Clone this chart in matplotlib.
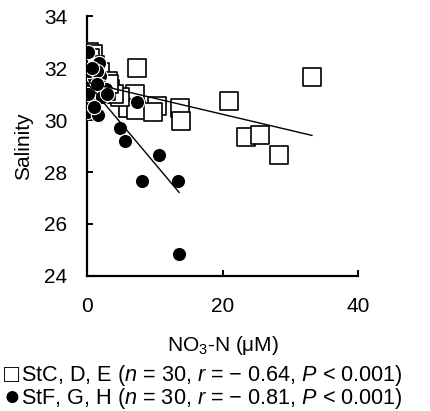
import numpy as np
import matplotlib
matplotlib.use("Agg")
import matplotlib.pyplot as plt

plt.rcParams['font.family'] = ['Liberation Sans', 'DejaVu Sans']
plt.rcParams['mathtext.fontset'] = 'custom'
plt.rcParams['mathtext.rm'] = 'Liberation Sans'
plt.rcParams['mathtext.it'] = 'Liberation Sans:italic'

# StC, D, E (open squares)
sq_x = [33.2, 20.9, 23.5, 25.5, 28.3, 7.4, 7.1, 6.0, 7.3, 4.9, 10.3, 9.8, 13.7, 13.8,
        0.3, 0.9, 1.9, 3.1, 0.4, 3.4, 2.5, 1.5, 1.0, 0.5, 2.0, 4.0, 0.8, 1.2, 2.8, 3.2]
sq_y = [31.65, 30.74, 29.36, 29.44, 28.67, 32.0, 31.0, 30.47, 30.4, 30.9, 30.55, 30.3, 30.45, 29.98,
        32.6, 32.55, 31.85, 31.5, 31.55, 31.2, 31.3, 31.4, 31.8, 32.4, 31.0, 31.0, 31.2, 32.1, 31.1, 31.4]

# StF, G, H (filled circles)
ci_x = [0.2, 1.8, 1.9, 0.2, 0.0, 0.4, 2.4, 0.0, 1.6, 7.4, 4.9, 5.6, 10.6, 8.1, 13.4, 13.6,
        0.5, 1.0, 1.2, 0.3, 2.0, 2.8, 0.6, 1.4, 0.8, 2.2, 1.0, 0.1, 3.0, 1.5]
ci_y = [32.6, 32.2, 31.7, 31.5, 31.25, 30.9, 31.05, 30.3, 30.2, 30.7, 29.7, 29.2, 28.67, 27.64, 27.64, 24.84,
        31.3, 31.6, 31.0, 31.9, 31.3, 31.2, 30.6, 31.9, 32.0, 30.9, 30.5, 31.0, 31.0, 31.4]

# linear trend lines: (slope, intercept)
fit_sq = (-0.0615, 31.45)
fit_ci = (-0.31, 31.43)

x_ticks = [0, 20, 40]
y_ticks = [24, 26, 28, 30, 32, 34]
legend_sym = ["□", "●"]
legend_txt = [r"StC, D, E ($n$ = 30, $r$ = − 0.64, $P$ < 0.001)",
              r"StF, G, H ($n$ = 30, $r$ = − 0.81, $P$ < 0.001)"]

FS = 15
W, H = 431, 411

fig = plt.figure(figsize=(4.31, 4.11), dpi=100)
ax = fig.add_axes([0.2019, 0.3285, 0.6287, 0.6325])

ax.scatter(sq_x, sq_y, marker='s', s=150, facecolors='white', edgecolors='black',
           linewidths=1.2, zorder=2)
ax.scatter(ci_x, ci_y, marker='o', s=105, facecolors='black', edgecolors='white',
           linewidths=0.8, zorder=3)

for xs, (k, b) in [(sq_x, fit_sq), (ci_x, fit_ci)]:
    xx = np.array([min(xs), max(xs)])
    ax.plot(xx, k * xx + b, color='black', lw=1.0, zorder=4)

ax.set_xlim(0, 40)
ax.set_ylim(24, 34)
ax.set_xticks(x_ticks)
ax.set_yticks(y_ticks)
for s in ['top', 'right']:
    ax.spines[s].set_visible(False)
for s in ['left', 'bottom']:
    ax.spines[s].set_linewidth(1.6)
ax.tick_params(direction='in', length=4, width=1.4, labelsize=FS, pad=15)
ax.tick_params(axis='y', pad=14)
ax.set_ylabel('Salinity', fontsize=FS, labelpad=8)
ax.set_xlabel(r'NO$_3$-N (μM)', fontsize=FS, labelpad=13)
for sp in ax.spines.values():
    sp.set_clip_on(False)

ys = [375, 398]
sym_sizes = [18, 20]
for sym, txt, y, ss in zip(legend_sym, legend_txt, ys, sym_sizes):
    fig.text(4 / W, 1 - y / H, sym, fontsize=ss, va='center', ha='left')
    fig.text(21 / W, 1 - y / H, txt, fontsize=15.6, va='center', ha='left')

fig.savefig('out.png', dpi=100)
